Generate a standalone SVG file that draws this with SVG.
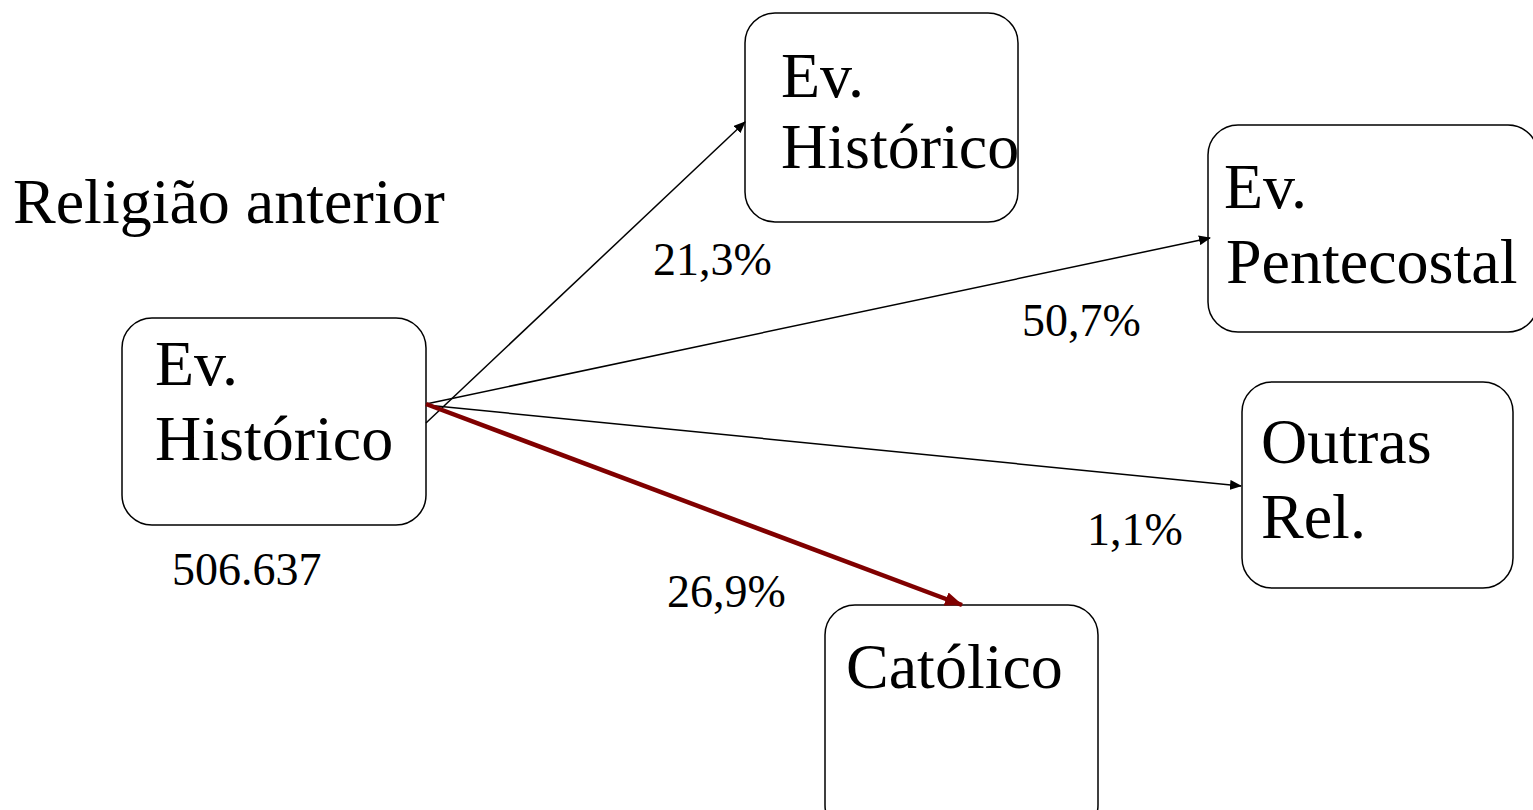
<svg xmlns="http://www.w3.org/2000/svg" width="1533" height="810" viewBox="0 0 1533 810">
<defs>
<style>
.box{fill:#fff;stroke:#000;stroke-width:1.5}
.t{font-family:"Liberation Serif","Times New Roman",serif;font-size:64px;fill:#000}
.l{font-family:"Liberation Serif","Times New Roman",serif;font-size:46px;fill:#000}
.c{stroke:#000;stroke-width:1.5;fill:none}
.r{stroke:#800000;stroke-width:4.5;fill:none}
</style>
<marker id="ab" viewBox="0 0 12 10" refX="11" refY="5" markerWidth="12" markerHeight="10" markerUnits="userSpaceOnUse" orient="auto"><path d="M0,0 L12,5 L0,10 Z" fill="#000"/></marker>
<marker id="ar" viewBox="0 0 18 14" refX="17" refY="7" markerWidth="18" markerHeight="14" markerUnits="userSpaceOnUse" orient="auto"><path d="M0,0 L18,7 L0,14 Z" fill="#800000"/></marker>
</defs>
<rect width="1533" height="810" fill="#fff"/>
<text class="t" x="13" y="223">Religião anterior</text>
<g id="src">
<rect class="box" x="122" y="318" width="304" height="207" rx="30"/>
<text class="t" x="155" y="385">Ev.</text>
<text class="t" x="155" y="460">Histórico</text>
</g>
<text class="l" x="172" y="585">506.637</text>
<g id="evhist">
<rect class="box" x="745" y="13" width="273" height="209" rx="30"/>
<text class="t" x="781" y="97">Ev.</text>
<text class="t" x="781" y="168">Histórico</text>
</g>
<g id="pent">
<rect class="box" x="1208" y="125" width="330" height="207" rx="30"/>
<text class="t" x="1224" y="208">Ev.</text>
<text class="t" x="1226" y="283">Pentecostal</text>
</g>
<g id="outras">
<rect class="box" x="1242" y="382" width="271" height="206" rx="30"/>
<text class="t" x="1261" y="463">Outras</text>
<text class="t" x="1261" y="538">Rel.</text>
</g>
<g id="catolico">
<rect class="box" x="825" y="605" width="273" height="230" rx="30"/>
<text class="t" x="846" y="688">Católico</text>
</g>
<g id="connectors">
<line class="c" x1="426" y1="423" x2="745" y2="122" marker-end="url(#ab)"/>
<line class="c" x1="426" y1="404" x2="1210" y2="238" marker-end="url(#ab)"/>
<line class="c" x1="426" y1="405" x2="1241" y2="486" marker-end="url(#ab)"/>
<line class="r" x1="426" y1="404" x2="962" y2="605" marker-end="url(#ar)"/>
</g>
<text class="l" x="653" y="275">21,3%</text>
<text class="l" x="1022" y="336">50,7%</text>
<text class="l" x="1087" y="545">1,1%</text>
<text class="l" x="667" y="607">26,9%</text>
</svg>
